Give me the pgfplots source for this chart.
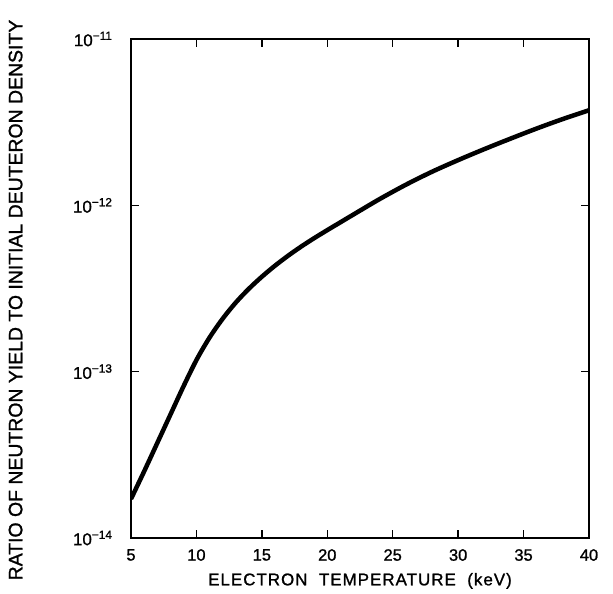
\documentclass[border=0pt]{standalone}
\usepackage{fontspec}
\setmainfont{Liberation Sans}[FakeBold=1.2]
\usepackage{pgfplots}
\pgfplotsset{compat=1.18}
\begin{document}
\begin{tikzpicture}
\begin{semilogyaxis}[
  scale only axis, width=458bp, height=499bp,
  xmin=5, xmax=40, ymin=1e-14, ymax=1e-11,
  xtick={5,10,...,40},
  xticklabels={5,10,15,20,25,30,35,40},
  ytick={1e-14,1e-13,1e-12,1e-11},
  yticklabels={10\textsuperscript{−14},10\textsuperscript{−13},10\textsuperscript{−12},10\textsuperscript{−11}},
  yminorticks=false,
  tick align=inside, major tick length=8bp,
  axis line style={line width=1.8bp},
  tick style={line width=1.4bp, black},
  xticklabel style={font=\fontsize{16.5}{18}\selectfont, yshift=-10bp, inner sep=1bp},
  yticklabel style={font=\fontsize{17}{19}\selectfont, xshift=-15bp},
  every axis x label/.style={at={(axis description cs:0.5,-0.086)}, anchor=center, inner sep=1bp},
  every axis y label/.style={at={(axis description cs:-0.252,0.477)}, rotate=90, anchor=center},
  xlabel={\fontsize{17}{18}\selectfont\addfontfeature{LetterSpace=6}ELECTRON\ \ TEMPERATURE\ \ (keV)},
  ylabel={\fontsize{19.5}{22}\selectfont RATIO OF NEUTRON YIELD TO INITIAL DEUTERON DENSITY},
]
\addplot[line width=4.5bp, black, smooth] coordinates {
(5,1.718e-14)
(6,2.512e-14)
(7,3.715e-14)
(8,5.495e-14)
(9,8.128e-14)
(10,1.175e-13)
(11,1.603e-13)
(12,2.080e-13)
(13,2.600e-13)
(14,3.148e-13)
(15,3.724e-13)
(16,4.335e-13)
(17,4.977e-13)
(18,5.649e-13)
(19,6.353e-13)
(20,7.096e-13)
(22,8.810e-13)
(24,1.091e-12)
(26,1.330e-12)
(28,1.592e-12)
(30,1.871e-12)
(32,2.178e-12)
(34,2.518e-12)
(36,2.897e-12)
(38,3.304e-12)
(40,3.733e-12)
};
\end{semilogyaxis}
\path (current axis.south west) ++(-131bp,-56bp) rectangle ++(613bp,594bp);
\end{tikzpicture}
\end{document}
